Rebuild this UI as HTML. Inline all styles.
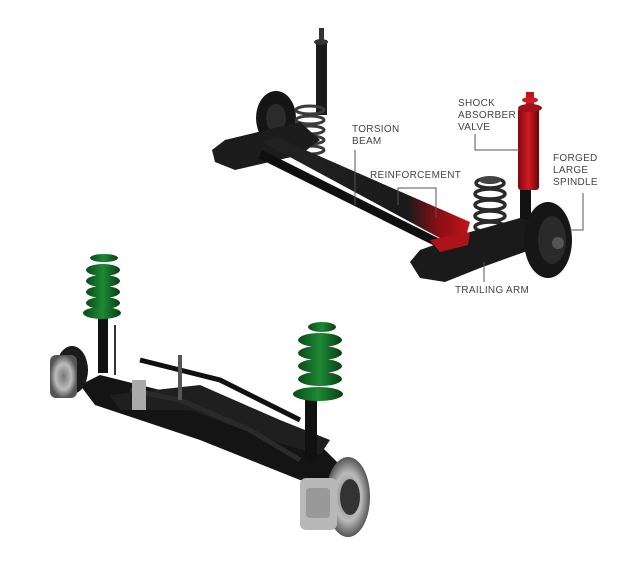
<!DOCTYPE html>
<html><head><meta charset="utf-8"><style>
html,body{margin:0;padding:0;background:#fff}
svg{display:block}
text{font-family:"Liberation Sans",sans-serif;font-size:10px;fill:#444;letter-spacing:0.3px}
</style></head><body>
<svg width="640" height="570" viewBox="0 0 640 570" xmlns="http://www.w3.org/2000/svg">
<defs>
<linearGradient id="beam" x1="0" y1="0" x2="1" y2="0">
<stop offset="0" stop-color="#222"/><stop offset="0.7" stop-color="#1a1a1a"/><stop offset="0.85" stop-color="#8a0f14"/><stop offset="1" stop-color="#c0141b"/>
</linearGradient>
<linearGradient id="red" x1="0" y1="0" x2="1" y2="0">
<stop offset="0" stop-color="#7a0a0e"/><stop offset="0.5" stop-color="#d21a22"/><stop offset="1" stop-color="#6a0508"/>
</linearGradient>
<linearGradient id="grn" x1="0" y1="0" x2="1" y2="0">
<stop offset="0" stop-color="#0b4a1a"/><stop offset="0.5" stop-color="#1d8a35"/><stop offset="1" stop-color="#0a3d15"/>
</linearGradient>
<radialGradient id="disc"><stop offset="0" stop-color="#777"/><stop offset="0.6" stop-color="#bbb"/><stop offset="1" stop-color="#555"/></radialGradient>
</defs>

<!-- TOP rear axle -->
<rect x="316" y="40" width="11" height="75" fill="#1a1a1a"/>
<rect x="319" y="28" width="5" height="14" fill="#333"/>
<ellipse cx="321" cy="42" rx="7" ry="3" fill="#333"/>
<ellipse cx="276" cy="118" rx="20" ry="27" fill="#151515"/>
<ellipse cx="276" cy="118" rx="10" ry="14" fill="#2b2b2b"/>
<g fill="none" stroke="#3a3a3a" stroke-width="3">
<ellipse cx="310" cy="110" rx="14" ry="4"/><ellipse cx="310" cy="120" rx="14" ry="4"/><ellipse cx="310" cy="130" rx="14" ry="4"/><ellipse cx="310" cy="140" rx="14" ry="4"/><ellipse cx="310" cy="150" rx="14" ry="4"/>
</g>
<polygon points="212,150 225,140 300,122 320,140 300,155 235,170 215,162" fill="#1c1c1c"/>
<polygon points="262,142 278,138 470,222 462,250" fill="url(#beam)"/>
<polygon points="262,150 462,250 455,256 258,158" fill="#0f0f0f"/>
<g fill="none" stroke="#2a2a2a" stroke-width="3.5">
<ellipse cx="490" cy="183" rx="14" ry="5"/><ellipse cx="490" cy="194" rx="15" ry="5"/><ellipse cx="490" cy="205" rx="15" ry="5"/><ellipse cx="490" cy="216" rx="15" ry="5"/><ellipse cx="490" cy="227" rx="15" ry="5"/>
</g>
<ellipse cx="490" cy="180" rx="11" ry="4" fill="#444"/>
<rect x="518" y="108" width="21" height="82" rx="3" fill="url(#red)"/>
<rect x="526" y="92" width="8" height="18" fill="#c0141b"/>
<ellipse cx="530" cy="108" rx="12" ry="4" fill="#a0101a"/>
<ellipse cx="530" cy="100" rx="8" ry="3" fill="#d21a22"/>
<rect x="520" y="190" width="11" height="32" fill="#111"/>
<polygon points="410,262 420,250 470,232 520,218 545,225 530,250 480,268 445,282 420,278" fill="#1a1a1a"/>
<polygon points="430,240 470,232 468,245 440,252" fill="#b0121a"/>
<ellipse cx="548" cy="240" rx="24" ry="38" fill="#161616"/>
<ellipse cx="552" cy="240" rx="14" ry="24" fill="#2a2a2a"/>
<circle cx="558" cy="243" r="6" fill="#555"/>

<!-- labels -->
<text x="352" y="132">TORSION</text><text x="352" y="144">BEAM</text>
<polyline points="355,150 355,205" fill="none" stroke="#555" stroke-width="1"/>
<text x="458" y="106">SHOCK</text><text x="458" y="118">ABSORBER</text><text x="458" y="130">VALVE</text>
<polyline points="475,134 475,150 520,150" fill="none" stroke="#555" stroke-width="1"/>
<text x="553" y="161">FORGED</text><text x="553" y="173">LARGE</text><text x="553" y="185">SPINDLE</text>
<polyline points="583,193 583,230 570,230" fill="none" stroke="#555" stroke-width="1"/>
<text x="370" y="178">REINFORCEMENT</text>
<polyline points="398,205 398,188 436,188 436,218" fill="none" stroke="#555" stroke-width="1"/>
<text x="455" y="293">TRAILING ARM</text>
<polyline points="484,282 484,262" fill="none" stroke="#555" stroke-width="1"/>

<!-- BOTTOM front subframe -->
<polygon points="80,385 100,375 200,400 320,445 345,470 330,490 300,480 200,440 95,405" fill="#141414"/>
<polygon points="110,395 200,385 280,420 330,440 320,455 270,440 190,410 120,410" fill="#1f1f1f"/>
<polyline points="140,360 180,370 220,380 260,400 300,420" fill="none" stroke="#111" stroke-width="5"/>
<polyline points="130,390 180,400 250,430 300,460" fill="none" stroke="#2a2a2a" stroke-width="5"/>
<rect x="178" y="355" width="4" height="45" fill="#555"/>
<rect x="132" y="380" width="14" height="30" fill="#aaa"/>
<rect x="98" y="318" width="10" height="55" fill="#111"/>
<rect x="114" y="325" width="2" height="50" fill="#333"/>
<ellipse cx="72" cy="370" rx="16" ry="24" fill="#1a1a1a"/>
<rect x="50" y="355" width="27" height="43" rx="6" fill="url(#disc)"/>
<g fill="url(#grn)">
<ellipse cx="104" cy="258" rx="14" ry="4"/>
<ellipse cx="103" cy="270" rx="17" ry="6"/><ellipse cx="103" cy="281" rx="17" ry="6"/><ellipse cx="103" cy="292" rx="17" ry="6"/><ellipse cx="103" cy="303" rx="17" ry="6"/>
<ellipse cx="102" cy="313" rx="19" ry="6"/>
</g>
<rect x="305" y="398" width="12" height="65" fill="#111"/>
<ellipse cx="348" cy="497" rx="22" ry="40" fill="url(#disc)"/>
<ellipse cx="350" cy="497" rx="10" ry="18" fill="#333"/>
<rect x="300" y="478" width="37" height="52" rx="6" fill="#b8b8b8"/>
<rect x="306" y="488" width="24" height="30" rx="4" fill="#999"/>
<g fill="url(#grn)">
<ellipse cx="322" cy="327" rx="14" ry="5"/>
<ellipse cx="320" cy="340" rx="22" ry="7"/><ellipse cx="320" cy="353" rx="22" ry="7"/><ellipse cx="320" cy="366" rx="22" ry="7"/><ellipse cx="320" cy="379" rx="22" ry="7"/>
<ellipse cx="318" cy="394" rx="25" ry="7"/>
</g>
</svg>
</body></html>
